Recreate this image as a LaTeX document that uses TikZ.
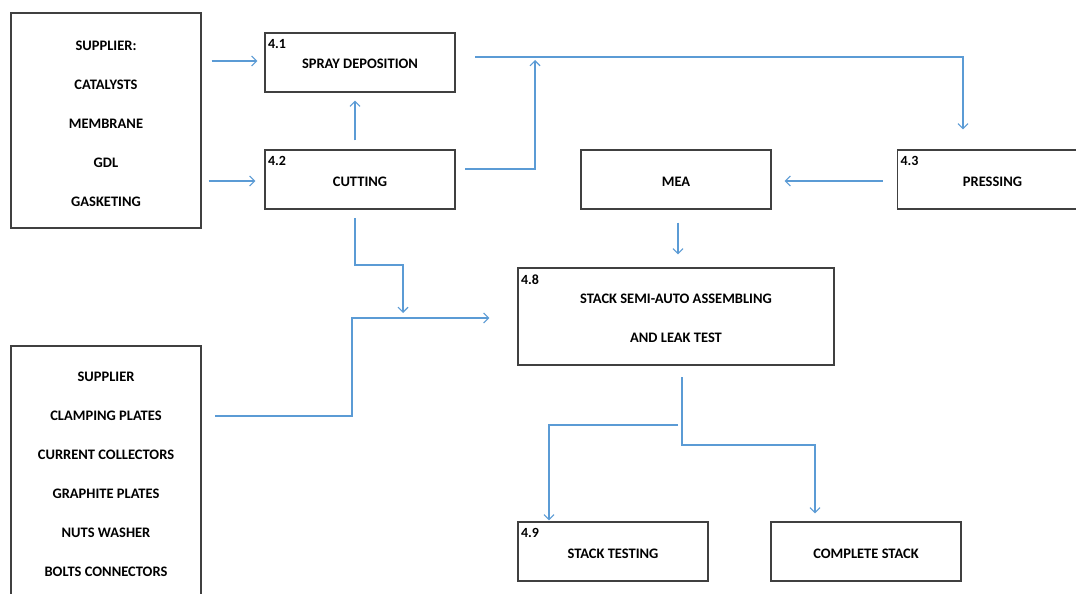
\documentclass[tikz,border=0pt]{standalone}
\usepackage{fontspec}
\setmainfont{Carlito}
\usetikzlibrary{arrows.meta}
\definecolor{lineblue}{RGB}{91,155,213}
\definecolor{boxgray}{RGB}{64,64,64}
\begin{document}
\begin{tikzpicture}[x=1pt,y=-1pt,
  box/.style={draw=boxgray, line width=1.3pt, fill=white, inner sep=0pt},
  stepbox/.style={box, minimum width=190pt, minimum height=59pt,
    font=\fontsize{14.5}{17}\selectfont\bfseries, text height=13pt, text depth=0pt},
  txt/.style={font=\fontsize{14.5}{39}\selectfont\bfseries, align=center},
  num/.style={anchor=north west, inner sep=0pt, font=\fontsize{14}{14}\selectfont\bfseries},
  arr/.style={draw=lineblue, line width=1.1pt, -{Straight Barb[length=5pt,width=10pt]}}]
\clip (0,0) rectangle (1076,594);
\fill[white] (0,0) rectangle (1076,594);

% supplier boxes
\node[box, minimum width=190pt, minimum height=215pt] (sup1) at (106,120.5) {};
\node[txt] (sup1txt) at (106,123.5)
  {SUPPLIER:\\CATALYSTS\\MEMBRANE\\GDL\\GASKETING};
\node[box, minimum width=190pt, minimum height=260pt] (sup2) at (106,476) {};
\node[txt] (sup2txt) at (106,474.5)
  {SUPPLIER\\CLAMPING PLATES\\CURRENT COLLECTORS\\GRAPHITE PLATES\\NUTS WASHER\\BOLTS CONNECTORS};

% process boxes
\node[stepbox] (sd) at (360,62.5) {SPRAY DEPOSITION};
\node[num] at ([xshift=3.5pt,yshift=-7pt]sd.north west) {4.1};
\node[stepbox] (cut) at (360,179.5) {CUTTING};
\node[num] at ([xshift=3.5pt,yshift=-7pt]cut.north west) {4.2};
\node[stepbox] (mea) at (676,179.5) {MEA};
\node[stepbox] (press) at (992.5,179.5) {PRESSING};
\node[num] at ([xshift=3.5pt,yshift=-7pt]press.north west) {4.3};
\node[box, minimum width=316pt, minimum height=97pt] (asm) at (676,316.5) {};
\node[txt] (asmtxt) at (676,318.5)
  {STACK SEMI-AUTO ASSEMBLING\\AND LEAK TEST};
\node[num] at ([xshift=3.5pt,yshift=-7pt]asm.north west) {4.8};
\node[stepbox] (test) at (613,551.5) {STACK TESTING};
\node[num] at ([xshift=3.5pt,yshift=-7pt]test.north west) {4.9};
\node[stepbox] (comp) at (866,551.5) {COMPLETE STACK};

% coordinates for bends
\coordinate (sdout) at (475,57);
\coordinate (pressin) at (963,57);
\coordinate (cutout) at (465,169);
\coordinate (cutjoin) at (535,169);
\coordinate (cutdown) at (355,218);
\coordinate (cutbend) at (403,265);
\coordinate (sup2out) at (215,416);
\coordinate (sup2bend) at (352,318);
\coordinate (asmout) at (682,377);
\coordinate (asmbend) at (815,445);
\coordinate (testfrom) at (678,425);
\coordinate (testbend) at (549,425);

% connectors
\draw[arr, shorten <=10pt, shorten >=7pt] (sup1.east |- 0,61) -- (sd.west |- 0,61);
\draw[arr, shorten <=7pt, shorten >=9pt] (sup1.east |- 0,181) -- (cut.west |- 0,181);
\draw[arr, shorten <=9pt, shorten >=8pt] (cut.north -| 355,0) -- (sd.south -| 355,0);
\draw[arr, shorten >=20pt] (sdout) -- (pressin) -- (pressin |- press.north);
\draw[arr] (cutout) -- (cutjoin) -- (535,60);
\draw[arr, shorten <=14pt, shorten >=13pt] (press.west |- 0,181) -- (mea.east |- 0,181);
\draw[arr, shorten <=13pt, shorten >=13pt] (mea.south -| 678,0) -- (asm.north -| 678,0);
\draw[arr] (cutdown) -- (cutdown |- cutbend) -- (cutbend) -- (403,313);
\draw[arr, shorten >=28pt] (sup2out) -- (sup2bend |- sup2out) -- (sup2bend) -- (sup2bend -| asm.west);
\draw[arr, shorten >=8pt] (asmout) -- (asmout |- asmbend) -- (asmbend) -- (asmbend |- comp.north);
\draw[arr, shorten >=1pt] (testfrom) -- (testbend) -- (testbend |- test.north);
\end{tikzpicture}
\end{document}
